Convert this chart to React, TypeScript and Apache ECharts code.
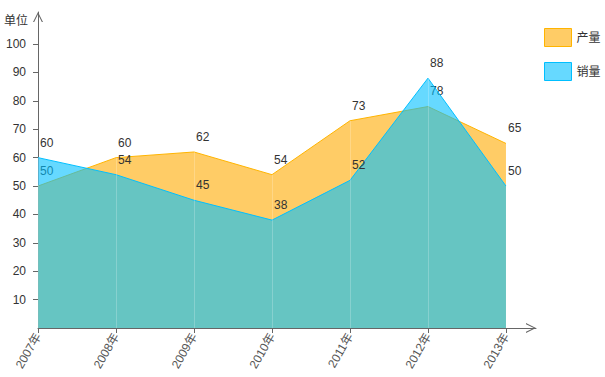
import React, { useEffect, useRef } from "react";
import * as echarts from "echarts";

const categories = ["2007年", "2008年", "2009年", "2010年", "2011年", "2012年", "2013年"];
const production = [50, 60, 62, 54, 73, 78, 65];
const sales = [60, 54, 45, 38, 52, 88, 50];
const yTicks = [10, 20, 30, 40, 50, 60, 70, 80, 90, 100];
const xTicks = categories.map((_, i) => i);

const FONT = '"Liberation Sans", Arial, "Noto Sans CJK SC", sans-serif';
const ARROW = "path://M0,10 L5,0 L10,10 L8.8,10 L5,2.2 L1.2,10 Z";

export default function App() {
  const ref = useRef<HTMLDivElement>(null);
  useEffect(() => {
    if (!ref.current) return;
    const chart = echarts.init(ref.current, undefined, { renderer: "svg" });
    const labelCfg = {
      show: true,
      position: "top",
      align: "left",
      distance: 9,
      offset: [2, 0],
      color: "#333",
      fontSize: 12,
      fontFamily: FONT,
    };
    const dropLines = xTicks.map((i) => [
      { coord: [i, 0] },
      { coord: [i, Math.max(production[i], sales[i])] },
    ]);
    chart.setOption({
      animation: false,
      textStyle: { fontFamily: FONT },
      grid: { left: 38, right: 69, top: 12, bottom: 49, containLabel: false },
      legend: {
        orient: "vertical",
        left: 544,
        top: 28,
        padding: 0,
        itemWidth: 27,
        itemHeight: 18,
        itemGap: 15,
        icon: "rect",
        textStyle: { fontSize: 12, color: "#333", fontFamily: FONT },
        data: [
          { name: "产量", itemStyle: { color: "rgba(255,170,0,0.6)", borderColor: "#ffb400", borderWidth: 1, opacity: 1 } },
          { name: "销量", itemStyle: { color: "rgba(0,191,255,0.6)", borderColor: "#00bfff", borderWidth: 1, opacity: 1 } },
        ],
      },
      xAxis: {
        type: "value",
        min: 0,
        max: 6.385,
        interval: 1,
        axisLine: {
          show: true,
          lineStyle: { color: "#666", width: 1 },
          symbol: ["none", ARROW],
          symbolSize: [10, 10],
          symbolOffset: [0, -5],
        },
        axisTick: { show: true, length: 5, customValues: xTicks, lineStyle: { color: "#666" } },
        axisLabel: {
          customValues: xTicks,
          formatter: (v: number) => categories[Math.round(v)],
          rotate: 60,
          margin: 6,
          color: "#555",
          fontSize: 12,
          fontFamily: FONT,
        },
        splitLine: { show: false },
      },
      yAxis: {
        type: "value",
        min: 0,
        max: 111.3,
        interval: 10,
        name: "单位",
        nameLocation: "end",
        nameGap: -9,
        nameTextStyle: {
          align: "right",
          verticalAlign: "middle",
          padding: [0, 10, 0, 0],
          color: "#333",
          fontSize: 12,
          fontFamily: FONT,
        },
        axisLine: {
          show: true,
          lineStyle: { color: "#666", width: 1 },
          symbol: ["none", ARROW],
          symbolSize: [11, 10],
          symbolOffset: [0, -5],
        },
        axisTick: { show: true, length: 5, customValues: yTicks, lineStyle: { color: "#666" } },
        axisLabel: {
          customValues: yTicks,
          margin: 12,
          color: "#333",
          fontSize: 12,
          fontFamily: FONT,
        },
        splitLine: { show: false },
      },
      series: [
        {
          name: "产量",
          type: "line",
          z: 2,
          data: production.map((v, i) => [i, v]),
          symbol: "circle",
          symbolSize: 0.1,
          itemStyle: { color: "rgba(255,180,0,0)" },
          lineStyle: { color: "#ffb400", width: 1 },
          areaStyle: { color: "rgba(255,170,0,0.6)", opacity: 1 },
          label: labelCfg,
        },
        {
          name: "销量",
          type: "line",
          z: 3,
          data: sales.map((v, i) => [i, v]),
          symbol: "circle",
          symbolSize: 0.1,
          itemStyle: { color: "rgba(0,191,255,0)" },
          lineStyle: { color: "#00bfff", width: 1 },
          areaStyle: { color: "rgba(0,191,255,0.6)", opacity: 1 },
          label: labelCfg,
          markLine: {
            silent: true,
            symbol: ["none", "none"],
            label: { show: false },
            lineStyle: { color: "rgba(255,255,255,0.22)", width: 1, type: "solid" },
            data: dropLines,
          },
        },
      ],
    });
    return () => chart.dispose();
  }, []);
  return <div ref={ref} style={{ width: 605, height: 377, position: "absolute", left: 0, top: 0 }} />;
}
